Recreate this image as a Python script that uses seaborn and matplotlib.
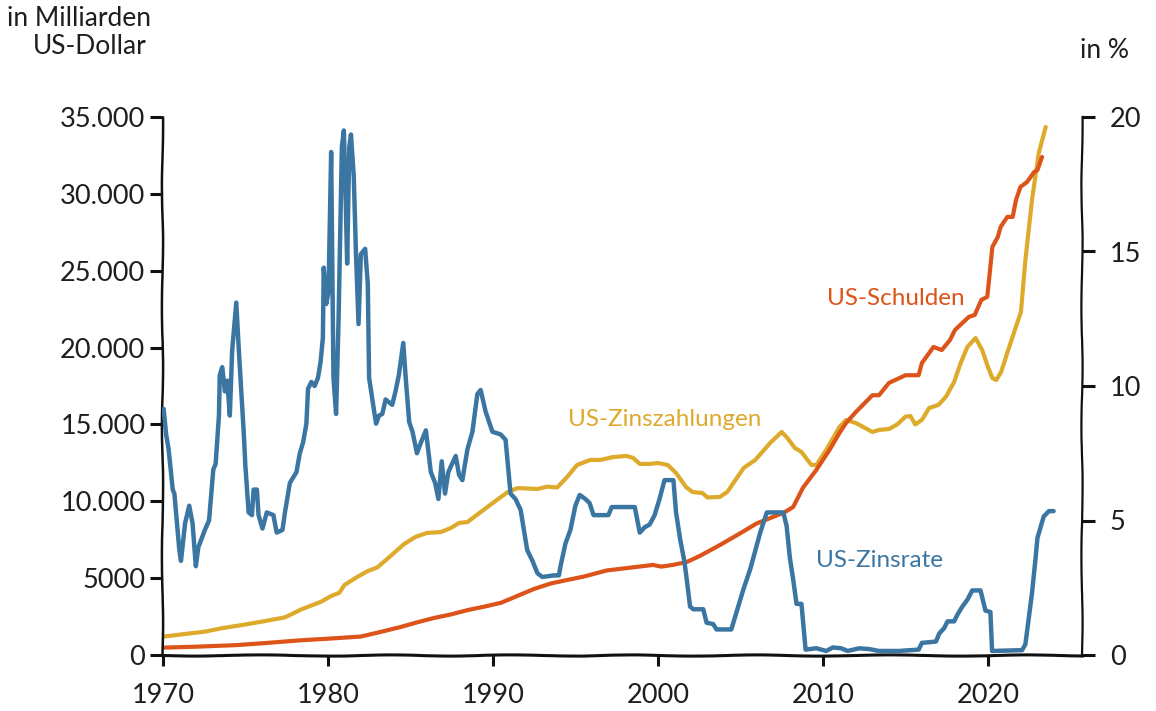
import numpy as np
import pandas as pd
import matplotlib
matplotlib.use("Agg")
import matplotlib.pyplot as plt
import seaborn as sns

# ---------------- data ----------------
rate_year = [1970.00, 1970.05, 1970.20, 1970.35, 1970.60, 1970.70, 1971.00, 1971.10, 1971.35, 1971.60,
             1971.80, 1972.00, 1972.15, 1972.55, 1972.80, 1973.06, 1973.20, 1973.40, 1973.45, 1973.60,
             1973.76, 1973.90, 1974.06, 1974.20, 1974.45, 1974.60, 1974.90, 1975.00, 1975.20, 1975.40,
             1975.50, 1975.70, 1975.80, 1976.04, 1976.30, 1976.70, 1976.90, 1977.25, 1977.40, 1977.70,
             1978.10, 1978.30, 1978.50, 1978.70, 1978.80, 1979.00, 1979.20, 1979.40, 1979.56, 1979.70,
             1979.75, 1979.90, 1980.04, 1980.20, 1980.34, 1980.50, 1980.65, 1980.85, 1980.97, 1981.07,
             1981.17, 1981.30, 1981.40, 1981.57, 1981.70, 1981.86, 1982.00, 1982.26, 1982.42, 1982.50,
             1982.72, 1982.92, 1983.10, 1983.30, 1983.50, 1983.90, 1984.10, 1984.30, 1984.57, 1984.73,
             1984.93, 1985.13, 1985.40, 1985.64, 1985.94, 1986.24, 1986.50, 1986.70, 1986.90, 1987.10,
             1987.30, 1987.75, 1987.95, 1988.15, 1988.46, 1988.76, 1989.06, 1989.26, 1989.56, 1989.97,
             1990.47, 1990.77, 1991.07, 1991.37, 1991.68, 1992.08, 1992.40, 1992.70, 1993.00, 1993.70,
             1994.00, 1994.10, 1994.40, 1994.70, 1995.00, 1995.26, 1995.60, 1995.86, 1996.10, 1996.50,
             1997.00, 1997.20, 1998.60, 1998.90, 1999.20, 1999.50, 1999.80, 2000.10, 2000.40, 2000.94,
             2001.10, 2001.35, 2001.60, 2001.75, 2001.95, 2002.15, 2002.75, 2002.95, 2003.35, 2003.55,
             2004.45, 2005.16, 2005.60, 2006.20, 2006.60, 2007.60, 2007.80, 2008.00, 2008.20, 2008.40,
             2008.70, 2008.95, 2009.60, 2010.20, 2010.60, 2011.10, 2011.50, 2012.20, 2012.80, 2013.40,
             2014.60, 2015.80, 2016.00, 2016.85, 2017.05, 2017.35, 2017.55, 2017.95, 2018.15, 2018.45,
             2018.75, 2019.05, 2019.55, 2019.85, 2020.15, 2020.25, 2022.07, 2022.27, 2022.67, 2022.87,
             2023.00, 2023.38, 2023.70, 2023.98]
rate_val = [8.95, 9.15, 8.2, 7.65, 6.15, 6.0, 3.9, 3.5, 4.9, 5.55,
            4.9, 3.3, 4.0, 4.65, 5.0, 6.9, 7.1, 8.9, 10.4, 10.7,
            9.8, 10.2, 8.9, 11.3, 13.1, 11.4, 8.3, 7.05, 5.3, 5.2,
            6.15, 6.15, 5.2, 4.7, 5.3, 5.2, 4.55, 4.65, 5.3, 6.4,
            6.8, 7.5, 7.9, 8.6, 9.9, 10.15, 10.0, 10.3, 10.9, 11.8,
            14.4, 13.05, 13.5, 18.7, 10.3, 8.96, 12.5, 18.9, 19.5, 17.2,
            14.55, 18.9, 19.35, 17.8, 15.0, 12.3, 14.9, 15.1, 13.8, 10.3,
            9.4, 8.6, 8.9, 8.96, 9.5, 9.3, 9.8, 10.4, 11.6, 10.2,
            8.66, 8.3, 7.5, 7.9, 8.35, 6.8, 6.4, 5.8, 7.2, 6.0,
            6.8, 7.4, 6.7, 6.5, 7.65, 8.3, 9.7, 9.85, 9.05, 8.3,
            8.2, 8.0, 6.0, 5.8, 5.4, 3.9, 3.5, 3.04, 2.9, 2.96,
            2.96, 3.3, 4.15, 4.65, 5.55, 5.95, 5.8, 5.65, 5.2, 5.2,
            5.2, 5.5, 5.5, 4.55, 4.75, 4.85, 5.2, 5.8, 6.5, 6.5,
            5.3, 4.3, 3.5, 2.8, 1.8, 1.7, 1.7, 1.2, 1.15, 0.95,
            0.95, 2.4, 3.2, 4.55, 5.3, 5.3, 4.8, 3.6, 2.8, 1.9,
            1.9, 0.2, 0.25, 0.15, 0.28, 0.25, 0.15, 0.25, 0.22, 0.15,
            0.15, 0.2, 0.45, 0.5, 0.8, 1.0, 1.25, 1.25, 1.5, 1.8,
            2.05, 2.4, 2.4, 1.65, 1.6, 0.15, 0.18, 0.4, 2.3, 3.5,
            4.35, 5.15, 5.35, 5.35]

debt_year = [1970.0, 1972.0, 1974.4, 1976.0, 1978.4, 1980.0, 1982.0, 1983.0, 1984.4, 1985.5,
             1986.4, 1987.5, 1988.5, 1989.5, 1990.5, 1991.5, 1992.5, 1993.5, 1994.5, 1995.5,
             1996.9, 1998.7, 1999.7, 2000.2, 2000.9, 2001.75, 2002.55, 2003.75, 2004.96, 2005.97,
             2006.97, 2007.6, 2008.2, 2008.8, 2009.6, 2010.4, 2011.0, 2011.4, 2012.0, 2013.0,
             2013.4, 2014.0, 2015.0, 2015.8, 2016.0, 2016.44, 2016.7, 2017.2, 2017.7, 2018.0,
             2018.45, 2018.85, 2019.2, 2019.6, 2019.96, 2020.27, 2020.6, 2020.77, 2021.17, 2021.5,
             2021.7, 2021.97, 2022.37, 2022.8, 2023.0, 2023.28]
debt_val = [480, 540, 640, 760, 960, 1060, 1200, 1450, 1820, 2150,
            2400, 2650, 2930, 3150, 3400, 3850, 4300, 4650, 4880, 5100,
            5500, 5730, 5860, 5750, 5860, 6050, 6450, 7150, 7900, 8550,
            8980, 9240, 9630, 10900, 12040, 13340, 14440, 15090, 15810, 16900,
            16900, 17700, 18200, 18200, 19000, 19650, 20040, 19840, 20490, 21140,
            21600, 22000, 22120, 23100, 23300, 26550, 27200, 27850, 28500, 28500,
            29600, 30450, 30770, 31420, 31550, 32400]

int_year = [1970.0, 1971.35, 1972.55, 1973.56, 1974.8, 1976.0, 1977.4, 1978.4, 1979.6, 1980.2,
            1980.7, 1981.0, 1981.8, 1982.4, 1983.0, 1983.6, 1984.6, 1985.3, 1986.0, 1986.85,
            1987.45, 1987.95, 1988.46, 1989.26, 1990.07, 1990.9, 1991.5, 1992.7, 1993.3, 1993.9,
            1994.5, 1995.1, 1995.9, 1996.5, 1997.3, 1998.1, 1998.5, 1998.9, 1999.5, 2000.0,
            2000.6, 2001.1, 2001.7, 2002.1, 2002.7, 2003.0, 2003.75, 2004.2, 2005.2, 2005.9,
            2006.8, 2007.5, 2007.8, 2008.3, 2008.7, 2009.3, 2009.6, 2010.2, 2011.0, 2011.4,
            2012.0, 2013.0, 2013.4, 2014.0, 2014.5, 2015.0, 2015.3, 2015.6, 2016.0, 2016.44,
            2017.0, 2017.45, 2017.95, 2018.35, 2018.75, 2019.25, 2019.65, 2020.0, 2020.27, 2020.5,
            2020.8, 2021.17, 2021.57, 2022.0, 2022.27, 2022.67, 2023.08, 2023.5]
int_val = [1190, 1370, 1520, 1740, 1950, 2170, 2450, 2970, 3470, 3840,
           4050, 4550, 5090, 5450, 5700, 6250, 7200, 7680, 7940, 8000,
           8260, 8590, 8650, 9300, 9950, 10600, 10860, 10800, 10950, 10900,
           11580, 12360, 12690, 12690, 12880, 12950, 12820, 12430, 12430, 12490,
           12360, 11840, 10930, 10600, 10540, 10250, 10280, 10600, 12170, 12690,
           13790, 14510, 14180, 13470, 13210, 12360, 12360, 13340, 14830, 15290,
           15090, 14510, 14640, 14700, 15000, 15500, 15550, 15000, 15300, 16070,
           16270, 16790, 17760, 19000, 20040, 20620, 19840, 18740, 18020, 17890,
           18410, 19650, 20950, 22320, 25700, 29600, 32660, 34350]

left_ticks = [0, 5000, 10000, 15000, 20000, 25000, 30000, 35000]
left_labels = ["0", "5000", "10.000", "15.000", "20.000", "25.000", "30.000", "35.000"]
right_ticks = [0, 5, 10, 15, 20]
x_ticks = [1970, 1980, 1990, 2000, 2010, 2020]

C_DEBT = "#dc5419"
C_INT = "#deaa2c"
C_RATE = "#3b76a3"
TXT = "#1e1e1e"

# ---------------- style ----------------
sns.set_theme(style="white")
plt.rcParams["font.family"] = ["Lato", "DejaVu Sans"]
plt.rcParams["font.weight"] = "normal"

fig = plt.figure(figsize=(11.56, 7.11), dpi=100)
ax = fig.add_axes([162 / 1156, 1 - 655 / 711, (1082 - 162) / 1156, (655 - 117) / 711])
ax2 = ax.twinx()

df_int = pd.DataFrame({"Jahr": int_year, "Wert": int_val})
df_debt = pd.DataFrame({"Jahr": debt_year, "Wert": debt_val})
df_rate = pd.DataFrame({"Jahr": rate_year, "Wert": rate_val})

sns.lineplot(data=df_int, x="Jahr", y="Wert", ax=ax, color=C_INT, lw=3.0,
             estimator=None, sort=False, solid_joinstyle="round")
sns.lineplot(data=df_debt, x="Jahr", y="Wert", ax=ax, color=C_DEBT, lw=3.0,
             estimator=None, sort=False, solid_joinstyle="round")
sns.lineplot(data=df_rate, x="Jahr", y="Wert", ax=ax2, color=C_RATE, lw=3.2,
             estimator=None, sort=False, solid_joinstyle="round")

ax.set_xlim(1969.95, 2025.7)
ax.set_ylim(0, 35000)
ax2.set_ylim(0, 20)

for a in (ax, ax2):
    a.set_xlabel("")
    a.set_ylabel("")
    a.grid(False)
    a.set_facecolor("none")
    for s in a.spines.values():
        s.set_visible(False)

# sketchy axis lines
for name, lw in (("left", 1.8), ("bottom", 2.2)):
    sp = ax.spines[name]
    sp.set_visible(True)
    sp.set_color("#111111")
    sp.set_linewidth(lw)
    sp.set_sketch_params(0.6, 160, 3)
sp = ax2.spines["right"]
sp.set_visible(True)
sp.set_color("#111111")
sp.set_linewidth(1.6)
sp.set_sketch_params(0.6, 160, 3)

ax.set_yticks(left_ticks)
ax.set_yticklabels(left_labels)
ax.set_xticks(x_ticks)
ax.set_xticklabels([str(t) for t in x_ticks])
ax2.set_yticks(right_ticks)
ax2.set_yticklabels([str(t) for t in right_ticks])

ax.tick_params(axis="y", which="both", left=True, length=9, width=2.2, color="#111111",
               pad=3, labelsize=19.5, labelcolor=TXT)
ax.tick_params(axis="x", which="both", bottom=True, length=8, width=2.2, color="#111111",
               pad=12, labelsize=19.5, labelcolor=TXT)
ax2.tick_params(axis="y", which="both", right=True, length=9, width=2.2, color="#111111",
                pad=11, labelsize=19.5, labelcolor=TXT)

# axis titles
fig.text(151 / 1156, 1 - 18 / 711, "in Milliarden", ha="right", va="center",
         fontsize=19, color=TXT)
fig.text(147 / 1156, 1 - 47 / 711, "US-Dollar", ha="right", va="center",
         fontsize=19, color=TXT)
fig.text(1080 / 1156, 1 - 50 / 711, "in %", ha="left", va="center",
         fontsize=19, color=TXT)

# series labels
ax.text(2014.4, 23200, "US-Schulden", color=C_DEBT, fontsize=17.5, ha="center", va="center")
ax.text(2000.4, 15300, "US-Zinszahlungen", color=C_INT, fontsize=17.5, ha="center", va="center")
ax2.text(2013.45, 3.5, "US-Zinsrate", color=C_RATE, fontsize=17.5, ha="center", va="center")

fig.savefig("out.png", dpi=100)
